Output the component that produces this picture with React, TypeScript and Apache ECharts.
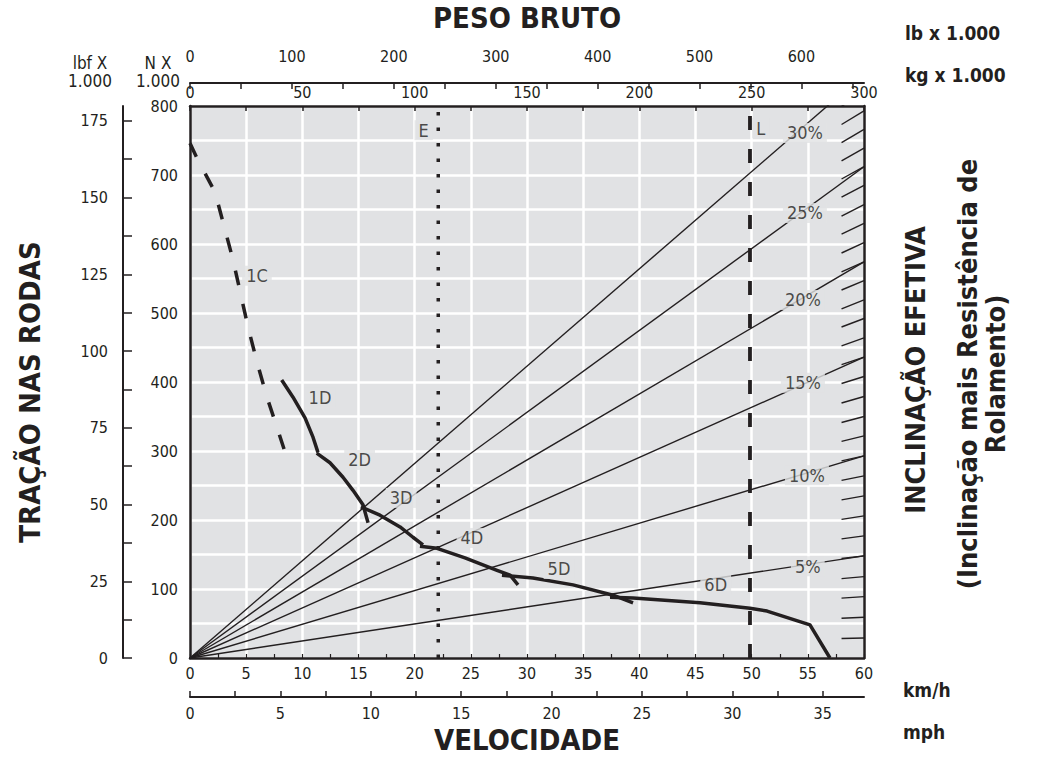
import React, { useEffect, useRef } from "react";
import * as echarts from "echarts";

const FONT = "'Liberation Sans Narrow', 'DejaVu Sans Condensed', 'Arial Narrow', sans-serif";
const INK = "#231f20";
const PLOT_BG = "#e1e2e4";

// axis extents
const SPEED_MAX_KMH = 60;
const WEIGHT_MAX_T = 300;
const PULL_MAX_KN = 800;
const WEIGHT_MAX_KLB = 661.387;
const SPEED_MAX_MPH = 37.2823;
const PULL_MAX_KLBF = 179.847;

// tick values
const lbTicks = [0, 50, 100, 150, 200, 250, 300, 350, 400, 450, 500, 550, 600, 650];
const lbLabels = [0, 100, 200, 300, 400, 500, 600];
const mphTicks = [0, 2.5, 5, 7.5, 10, 12.5, 15, 17.5, 20, 22.5, 25, 27.5, 30, 32.5, 35];
const mphLabels = [0, 5, 10, 15, 20, 25, 30, 35];
const lbfTicks = [0, 12.5, 25, 37.5, 50, 62.5, 75, 87.5, 100, 112.5, 125, 137.5, 150, 162.5, 175];
const lbfLabels = [0, 25, 50, 75, 100, 125, 150, 175];

// gear curves: [km/h, kN]
const gear1C = [[0, 746], [0.6, 725], [2.23, 675], [3.83, 577], [5.16, 480], [5.96, 429], [6.85, 378], [7.83, 330], [8.55, 294]];
const gear1D = [[8.16, 403], [9.17, 378], [10.24, 348], [10.95, 320], [11.39, 298]];
const gear2D = [[11.28, 297], [12.46, 283], [13.62, 262], [14.51, 243], [15.4, 222], [15.85, 196]];
const gear3D = [[15.22, 219], [16.91, 207], [18.7, 190], [19.85, 175], [20.74, 164]];
const gear4D = [[20.47, 162], [21.99, 159], [24.48, 145], [27.33, 127], [28.49, 120], [29.2, 106]];
const gear5D = [[27.77, 120], [30.53, 116], [34.1, 106], [37.66, 91], [39.44, 80]];
const gear6D = [[37.39, 88], [39.44, 87], [45.4, 80], [49.85, 72], [51.37, 68], [55.19, 48], [56.97, 0]];

const gearLabelNames = ["1C", "1D", "2D", "3D", "4D", "5D", "6D", "E", "L"];
const gearLabelX = [5.96, 11.57, 15.1, 18.8, 25.1, 32.85, 46.8, 20.8, 50.8];
const gearLabelY = [554, 377, 287, 232, 174, 129, 106, 765, 768];

// limit lines (km/h)
const speedE = 22.1;
const speedL = 49.85;

// effective grade lines: pull (kN) at 300 t gross weight
const gradeNames = ["5%", "10%", "15%", "20%", "25%", "30%"];
const gradePullAt300 = [148, 293, 436, 574, 712, 846];
const gradeLabelKg = [275, 274.6, 272.8, 272.8, 273.7, 273.7];
const gradeLabelKn = [133, 265, 399, 519, 645, 761];

// 1% grade hatch marks: pull (kN) at 300 t
const hatchPullAt300 = [29, 59, 89, 118, 148, 177, 206, 235, 264, 293, 322, 350, 379, 408, 436, 464, 492, 519, 547, 574, 602, 630, 657, 685, 712, 739, 766, 793, 820, 846, 872];

const txt = (over: any) => ({ color: INK, fontFamily: FONT, fontSize: 16, ...over });

function buildOption() {
  const series: any[] = [];
  gradePullAt300.forEach((v, i) => {
    series.push({
      type: "line", name: gradeNames[i], xAxisIndex: 1, yAxisIndex: 0, symbol: "none", silent: true, z: 3,
      lineStyle: { color: INK, width: 1.4 }, data: [[0, 0], [WEIGHT_MAX_T, v]],
    });
  });
  hatchPullAt300.forEach((v) => {
    series.push({
      type: "line", xAxisIndex: 1, yAxisIndex: 0, symbol: "none", silent: true, z: 3,
      lineStyle: { color: INK, width: 1.4 }, data: [[290, v * 0.975], [WEIGHT_MAX_T, v]],
    });
  });
  series.push({
    type: "line", xAxisIndex: 0, yAxisIndex: 0, symbol: "none", silent: true, z: 4,
    lineStyle: { color: INK, width: 3.5, type: [3.5, 12], cap: "butt" }, data: [[speedE, 0], [speedE, PULL_MAX_KN]],
  });
  series.push({
    type: "line", xAxisIndex: 0, yAxisIndex: 0, symbol: "none", silent: true, z: 4,
    lineStyle: { color: INK, width: 3.8, type: [14, 19], cap: "butt" }, data: [[speedL, 0], [speedL, PULL_MAX_KN]],
  });
  series.push({
    type: "line", xAxisIndex: 0, yAxisIndex: 0, symbol: "none", silent: true, z: 5,
    lineStyle: { color: INK, width: 3.5, type: [15, 19], cap: "butt" }, data: gear1C,
  });
  [gear1D, gear2D, gear3D, gear4D, gear5D, gear6D].forEach((g) => {
    series.push({
      type: "line", xAxisIndex: 0, yAxisIndex: 0, symbol: "none", silent: true, z: 5,
      lineStyle: { color: INK, width: 3.5, join: "round" }, data: g,
    });
  });
  const labelStyle = {
    show: true, position: "inside", formatter: "{b}", color: INK, fontFamily: FONT, fontSize: 18,
    backgroundColor: PLOT_BG, padding: [1, 4],
  };
  series.push({
    type: "scatter", xAxisIndex: 0, yAxisIndex: 0, symbolSize: 0.1, silent: true, z: 20,
    itemStyle: { color: PLOT_BG }, label: labelStyle,
    data: gearLabelNames.map((n, i) => ({ name: n, value: [gearLabelX[i], gearLabelY[i]] })),
  });
  series.push({
    type: "scatter", xAxisIndex: 1, yAxisIndex: 0, symbolSize: 0.1, silent: true, z: 20,
    itemStyle: { color: PLOT_BG }, label: labelStyle,
    data: gradeNames.map((n, i) => ({ name: n, value: [gradeLabelKg[i], gradeLabelKn[i]] })),
  });

  const bold = (text: string, x: number, y: number, size: number, extra: any = {}) => ({
    type: "text", x, y, silent: true, ...extra,
    style: { text, fill: INK, fontFamily: FONT, fontWeight: "bold", fontSize: size, textAlign: extra.align || "center", textVerticalAlign: "middle", lineHeight: extra.lineHeight },
  });
  const plain = (text: string, x: number, y: number) => ({
    type: "text", x, y, silent: true,
    style: { text, fill: INK, fontFamily: FONT, fontSize: 17, textAlign: "center", textVerticalAlign: "middle" },
  });

  return {
    animation: false,
    grid: { left: 190, top: 106, width: 674, height: 552, show: true, backgroundColor: PLOT_BG, borderWidth: 0 },
    xAxis: [
      {
        type: "value", position: "bottom", min: 0, max: SPEED_MAX_KMH, interval: 2.5,
        axisLine: { show: true, onZero: false, lineStyle: { color: INK, width: 2.5 } },
        axisTick: { show: true, inside: true, length: 4, lineStyle: { color: INK, width: 1.2 } },
        axisLabel: txt({ margin: 7, formatter: (v: number) => (v % 5 === 0 ? String(v) : "") }),
        splitLine: { show: false },
      },
      {
        type: "value", position: "top", min: 0, max: WEIGHT_MAX_T, interval: 25,
        axisLine: { show: true, onZero: false, lineStyle: { color: INK, width: 2.5 } },
        axisTick: { show: true, inside: true, length: 5, lineStyle: { color: INK, width: 1.5 } },
        axisLabel: txt({ margin: 6, formatter: (v: number) => (v % 50 === 0 ? String(v) : "") }),
        splitLine: { show: true, lineStyle: { color: "#ffffff", width: 2.5 } },
      },
      {
        type: "value", position: "top", offset: 23, min: 0, max: WEIGHT_MAX_KLB, interval: 50,
        axisLine: { show: true, onZero: false, lineStyle: { color: INK, width: 2 } },
        axisTick: { show: true, inside: true, length: 6, customValues: lbTicks, lineStyle: { color: INK, width: 1.5 } },
        axisLabel: txt({ margin: 19, customValues: lbLabels, formatter: (v: number) => (v % 100 === 0 ? String(v) : "") }),
        splitLine: { show: false },
      },
      {
        type: "value", position: "bottom", offset: 39, min: 0, max: SPEED_MAX_MPH, interval: 2.5,
        axisLine: { show: true, onZero: false, lineStyle: { color: INK, width: 2 } },
        axisTick: { show: true, inside: true, length: 6, customValues: mphTicks, lineStyle: { color: INK, width: 1.5 } },
        axisLabel: txt({ margin: 8, customValues: mphLabels, formatter: (v: number) => (v % 5 === 0 ? String(v) : "") }),
        splitLine: { show: false },
      },
    ],
    yAxis: [
      {
        type: "value", position: "left", min: 0, max: PULL_MAX_KN, interval: 50,
        axisLine: { show: true, onZero: false, lineStyle: { color: INK, width: 2.5 } },
        axisTick: { show: false },
        axisLabel: txt({ margin: 12, formatter: (v: number) => (v % 100 === 0 ? String(v) : "") }),
        splitLine: { show: true, lineStyle: { color: "#ffffff", width: 2.5 } },
      },
      {
        type: "value", position: "left", offset: 67, min: 0, max: PULL_MAX_KLBF, interval: 12.5,
        axisLine: { show: true, onZero: false, lineStyle: { color: INK, width: 2 } },
        axisTick: { show: true, inside: true, length: 9, customValues: lbfTicks, lineStyle: { color: INK, width: 1.5 } },
        axisLabel: txt({ margin: 15, customValues: lbfLabels, formatter: (v: number) => (v % 25 === 0 ? String(v) : "") }),
        splitLine: { show: false },
      },
      {
        type: "value", position: "right", min: 0, max: PULL_MAX_KN,
        axisLine: { show: true, onZero: false, lineStyle: { color: INK, width: 2.5 } },
        axisTick: { show: false }, axisLabel: { show: false }, splitLine: { show: false },
      },
    ],
    graphic: [
      bold("PESO BRUTO", 527, 18, 29),
      bold("VELOCIDADE", 527, 740, 29),
      bold("lb x 1.000", 905, 33, 19, { align: "left" }),
      bold("kg x 1.000", 905, 75, 19, { align: "left" }),
      bold("km/h", 903, 690, 19, { align: "left" }),
      bold("mph", 903, 732, 19, { align: "left" }),
      bold("TRAÇÃO NAS RODAS", 30, 392, 29, { rotation: Math.PI / 2 }),
      bold("INCLINAÇÃO EFETIVA", 915, 370, 27, { rotation: Math.PI / 2 }),
      bold("(Inclinação mais Resistência de\nRolamento)", 981, 374, 27, { rotation: Math.PI / 2, lineHeight: 28 }),
      plain("lbf X", 90, 63),
      plain("1.000", 90, 81),
      plain("N X", 158, 63),
      plain("1.000", 158, 81),
    ],
    series,
  };
}

export default function App() {
  const ref = useRef<HTMLDivElement>(null);
  useEffect(() => {
    const chart = echarts.init(ref.current!, null, { renderer: "svg" });
    chart.setOption(buildOption() as any);
    return () => chart.dispose();
  }, []);
  return (
    <div style={{ position: "absolute", left: 0, top: 0, width: 1037, height: 757, background: "#ffffff" }}>
      <div ref={ref} style={{ width: 1037, height: 757 }} />
    </div>
  );
}
